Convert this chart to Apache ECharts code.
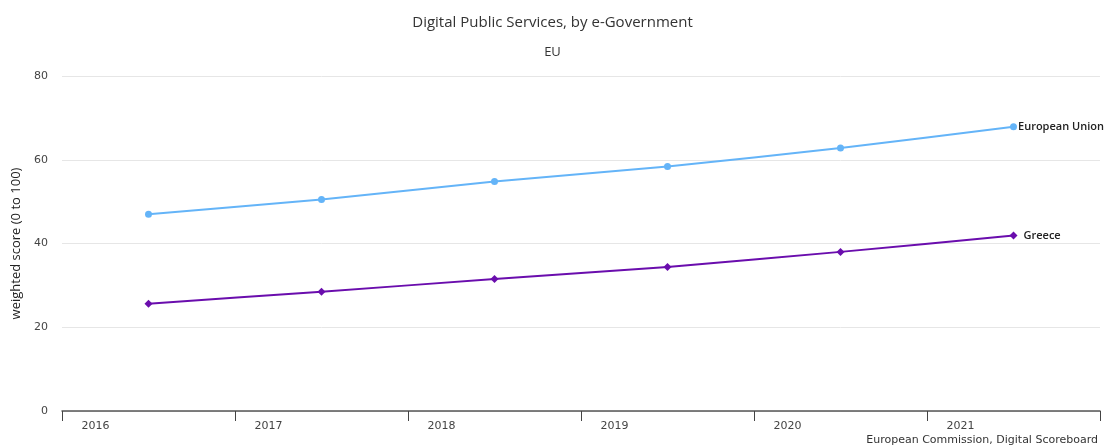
<!DOCTYPE html>
<html>
<head>
<meta charset="utf-8">
<script src="https://cdn.jsdelivr.net/npm/echarts@6/dist/echarts.min.js"></script>
<style>
  html, body { margin: 0; padding: 0; background: #fff; }
  #main { width: 1105px; height: 447px; }
</style>
</head>
<body>
<div id="main"></div>
<script>
var years = ['2016', '2017', '2018', '2019', '2020', '2021'];
var euValues = [47.0, 50.5, 54.8, 58.4, 62.8, 67.9];
var greeceValues = [25.6, 28.5, 31.5, 34.4, 38.0, 41.9];
var yTicks = [0, 20, 40, 60, 80];

var myChart = echarts.init(document.getElementById('main'));

// label only on the last point of a series
function lastLabel(name, dist) {
  return {
    show: true,
    position: 'right',
    distance: dist,
    formatter: function (p) { return p.dataIndex === years.length - 1 ? name : ''; },
    color: '#222',
    fontSize: 11,
    fontWeight: 600,
    fontFamily: 'Open Sans'
  };
}

var option = {
  animation: false,
  title: [{
    text: 'Digital Public Services, by e-Government',
    left: 'center',
    top: 10,
    textStyle: { fontFamily: 'Open Sans', fontSize: 15, fontWeight: 'normal', color: '#333' }
  }, {
    text: 'EU',
    left: 'center',
    top: 41,
    textStyle: { fontFamily: 'Open Sans', fontSize: 13, fontWeight: 'normal', color: '#333' }
  }],
  graphic: [{
    type: 'text',
    right: 7,
    top: 435,
    style: { text: 'European Commission, Digital Scoreboard', fontFamily: 'DejaVu Sans', fontSize: 11, fill: '#333' }
  }],
  grid: { left: 62, right: 5, top: 76, bottom: 36 },
  xAxis: {
    type: 'category',
    data: years,
    boundaryGap: true,
    axisLine: { lineStyle: { color: '#555', width: 1.5 } },
    axisTick: { show: true, length: 10, lineStyle: { color: '#444' } },
    axisLabel: {
      margin: 10,
      color: '#444',
      fontSize: 11,
      fontFamily: 'DejaVu Sans',
      padding: [0, 106, 0, 0]
    },
    splitLine: { show: false }
  },
  yAxis: {
    type: 'value',
    min: yTicks[0],
    max: yTicks[yTicks.length - 1],
    interval: 20,
    name: 'weighted score (0 to 100)',
    nameLocation: 'middle',
    nameGap: 38,
    nameTextStyle: { fontFamily: 'Open Sans', fontSize: 13, color: '#222' },
    axisLine: { show: false },
    axisTick: { show: false },
    axisLabel: { margin: 14, color: '#444', fontSize: 11, fontFamily: 'DejaVu Sans' },
    splitLine: { lineStyle: { color: '#e6e6e6' } }
  },
  series: [{
    name: 'European Union',
    type: 'line',
    data: euValues,
    smooth: 0.15,
    symbol: 'circle',
    symbolSize: 7,
    itemStyle: { color: '#64b4f8' },
    lineStyle: { width: 2, color: '#64b4f8' },
    label: lastLabel('European Union', 1)
  }, {
    name: 'Greece',
    type: 'line',
    data: greeceValues,
    smooth: 0.15,
    symbol: 'diamond',
    symbolSize: 8,
    itemStyle: { color: '#6a0dad' },
    lineStyle: { width: 2, color: '#6a0dad' },
    label: lastLabel('Greece', 6)
  }]
};

myChart.setOption(option);
</script>
</body>
</html>
